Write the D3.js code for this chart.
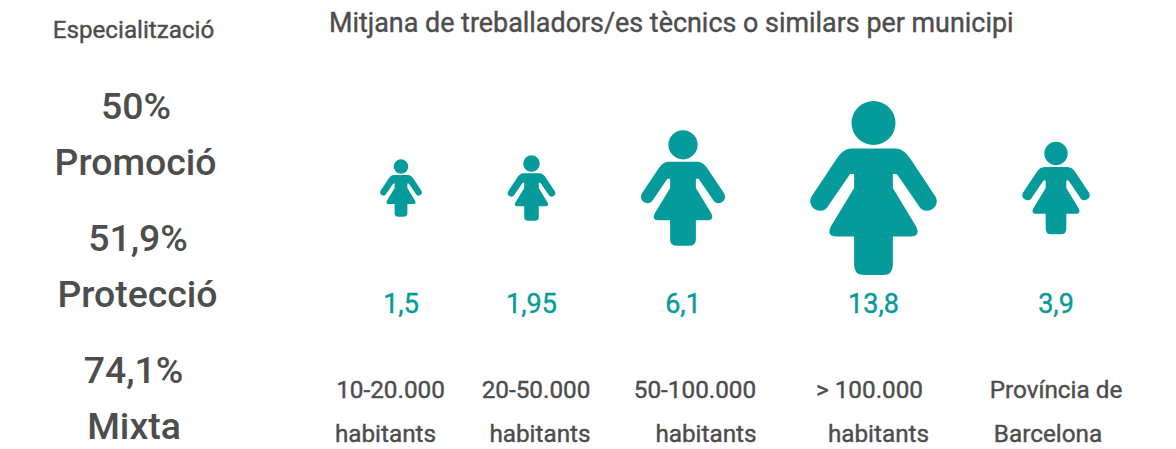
<!DOCTYPE html>
<html>
<head>
<meta charset="utf-8">
<script src="https://cdn.jsdelivr.net/npm/d3@7"></script>
<style>
  html, body { margin: 0; padding: 0; background: #fff; }
  svg { display: block; }
  text { font-family: Roboto, sans-serif; fill: #4d4d4d; stroke: #4d4d4d; stroke-width: 0.4px; }
</style>
</head>
<body>
<div id="chart"></div>
<script>
var categories = ["10-20.000", "20-50.000", "50-100.000", "> 100.000", "Província"];
var values = [1.5, 1.95, 6.1, 13.8, 3.9];
var valueLabels = ["1,5", "1,95", "6,1", "13,8", "3,9"];
var labelLine1 = ["10-20.000", "20-50.000", "50-100.000", "> 100.000", "Província de"];
var labelLine2 = ["habitants", "habitants", "habitants", "habitants", "Barcelona"];

var specLabels = ["Promoció", "Protecció", "Mixta"];
var specValues = ["50%", "51,9%", "74,1%"];

var width = 1176, height = 449;
var teal = "#069b9b";

var svg = d3.select("#chart").append("svg")
    .attr("width", width)
    .attr("height", height);

// icon column centres are uneven in the original
var x = d3.scaleOrdinal().domain(categories).range([401, 531.5, 683, 873.5, 1056]);
var line1X = d3.scaleOrdinal().domain(categories).range([390.5, 536, 695, 869.5, 1056]);
var line2X = d3.scaleOrdinal().domain(categories).range([385.5, 540, 706, 878.5, 1048]);

// icon area scales with the value
var iconHeight = d3.scaleSqrt().domain([0, 13.8]).range([0, 174]);

var iconBaseHeight = 173.3;
var iconCentreY = 188;

// woman glyph, drawn at iconBaseHeight tall with x=0 on its axis
var bodyPath = "M-21.7,47.3 L21.7,47.3 C28,47.3 33,52 36.7,57.5 L61.7,95"
    + " A9.6,9.6 0 0 1 46.7,106.7 L23.3,72.7 L19.3,72.7 L19.3,86.7 L42.5,125"
    + " Q47,134.5 38,135 L19.3,135 L19.3,163.3 Q19.3,173.3 9.3,173.3 L-9.3,173.3"
    + " Q-19.3,173.3 -19.3,163.3 L-19.3,135 L-38,135 Q-47,134.5 -42.5,125"
    + " L-19.3,86.7 L-19.3,72.7 L-23.3,72.7 L-46.7,106.7 A9.6,9.6 0 0 1 -61.7,95"
    + " L-36.7,57.5 C-33,52 -28,47.3 -21.7,47.3 Z";

var icons = svg.append("g").selectAll("g")
    .data(values)
    .enter().append("g")
    .attr("transform", function(d, i) {
        var h = iconHeight(d);
        return "translate(" + x(categories[i]) + "," + (iconCentreY - h / 2) + ") scale(" + (h / iconBaseHeight) + ")";
    })
    .attr("fill", teal);

icons.append("circle")
    .attr("cx", 0)
    .attr("cy", 21.9)
    .attr("r", 21.9);

icons.append("path")
    .attr("d", bodyPath);

svg.append("g").selectAll("text")
    .data(valueLabels)
    .enter().append("text")
    .attr("x", function(d, i) { return x(categories[i]); })
    .attr("y", 313)
    .attr("text-anchor", "middle")
    .style("font-size", "27px")
    .style("fill", teal)
    .style("stroke", teal)
    .text(function(d) { return d; });

svg.append("g").selectAll("text")
    .data(labelLine1)
    .enter().append("text")
    .attr("x", function(d, i) { return line1X(categories[i]); })
    .attr("y", 398)
    .attr("text-anchor", "middle")
    .style("font-size", "24.3px")
    .text(function(d) { return d; });

svg.append("g").selectAll("text")
    .data(labelLine2)
    .enter().append("text")
    .attr("x", function(d, i) { return line2X(categories[i]); })
    .attr("y", 442)
    .attr("text-anchor", "middle")
    .style("font-size", "24.3px")
    .text(function(d) { return d; });

svg.append("text")
    .attr("x", 329)
    .attr("y", 31.5)
    .style("font-size", "26.9px")
    .text("Mitjana de treballadors/es tècnics o similars per municipi");

svg.append("text")
    .attr("x", 133.5)
    .attr("y", 38)
    .attr("text-anchor", "middle")
    .style("font-size", "24.2px")
    .text("Especialització");

// left column: value on top of its name
var specValueY = d3.scaleOrdinal().domain(specLabels).range([119, 251, 383]);
var specLabelY = d3.scaleOrdinal().domain(specLabels).range([175, 307, 439]);
var specValueX = d3.scaleOrdinal().domain(specLabels).range([136, 138, 133.5]);
var specLabelX = d3.scaleOrdinal().domain(specLabels).range([135.5, 137.5, 134]);

svg.append("g").selectAll("text")
    .data(specLabels)
    .enter().append("text")
    .attr("x", function(d) { return specValueX(d); })
    .attr("y", function(d) { return specValueY(d); })
    .attr("text-anchor", "middle")
    .style("font-size", "37.4px")
    .style("font-weight", 500)
    .style("stroke-width", 0)
    .text(function(d, i) { return specValues[i]; });

svg.append("g").selectAll("text")
    .data(specLabels)
    .enter().append("text")
    .attr("x", function(d) { return specLabelX(d); })
    .attr("y", function(d) { return specLabelY(d); })
    .attr("text-anchor", "middle")
    .style("font-size", "37.4px")
    .style("font-weight", 500)
    .style("stroke-width", 0)
    .text(function(d) { return d; });
</script>
</body>
</html>
